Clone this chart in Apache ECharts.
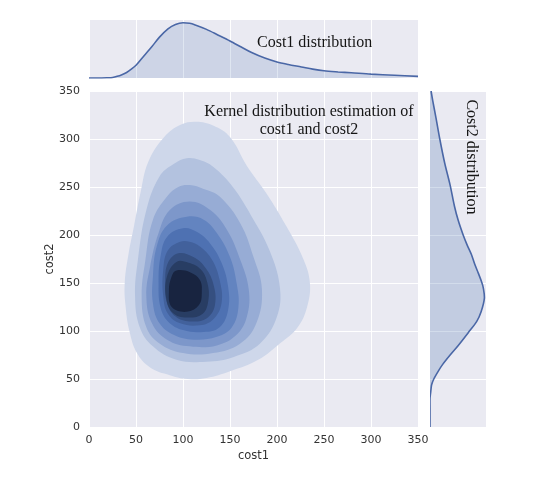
<!DOCTYPE html>
<html>
<head>
<meta charset="utf-8">
<script src="https://cdn.jsdelivr.net/npm/echarts@6.0.0/dist/echarts.min.js"></script>
<style>
html,body{margin:0;padding:0;background:#fff;}
#chart{width:556px;height:494px;}
</style>
</head>
<body>
<div id="chart"></div>
<script>
// ---- Data ----
var axisTicks = [0, 50, 100, 150, 200, 250, 300, 350];

// Marginal KDE of cost1 (relative density)
var cost1Values  = [0, 10, 20, 25, 30, 35, 40, 45, 50, 55, 60, 67, 75, 84, 92, 100, 107, 113, 125, 137, 150, 162, 173, 187, 200, 212, 226, 238, 250, 265, 279, 300, 325, 350];
var cost1Density = [0, 0, 0.005, 0.01, 0.03, 0.06, 0.1, 0.16, 0.23, 0.33, 0.43, 0.57, 0.74, 0.89, 0.97, 1.0, 0.99, 0.96, 0.88, 0.78, 0.67, 0.56, 0.46, 0.36, 0.29, 0.245, 0.2, 0.16, 0.13, 0.11, 0.095, 0.07, 0.05, 0.03];

// Marginal KDE of cost2 (relative density)
var cost2Values  = [0, 20, 30, 35, 40, 44, 50, 58, 65, 75, 85, 98, 110, 120, 134, 145, 151, 160, 170, 180, 190, 200, 215, 230, 252, 275, 300, 322, 340, 350];
var cost2Density = [0, 0, 0, 0.01, 0.02, 0.03, 0.07, 0.15, 0.23, 0.37, 0.52, 0.70, 0.86, 0.94, 1.0, 0.98, 0.95, 0.89, 0.82, 0.76, 0.68, 0.61, 0.52, 0.45, 0.37, 0.27, 0.18, 0.11, 0.05, 0.02];

// Filled KDE contour levels (cost1, cost2), outermost first
var level1  = [[114,318],[132,314],[150,302],[168,272],[189,243],[210,209],[228,175],[235,150],[232,125],[222,104],[203,87],[180,70],[150,58],[125,51],[105,50],[86,54],[65,62],[51,77],[43,100],[39,125],[38,150],[42,180],[48,210],[55,245],[63,276],[80,302],[98,315]];
var level2  = [[104,280],[118,278],[132,271],[153,250],[175,216],[192,184],[203,146],[200,115],[182,87],[154,73],[125,68],[93,70],[68,84],[54,104],[49,136],[52,174],[61,226],[75,261],[90,274]];
var level3  = [[107,252],[122,248],[139,240],[161,212],[175,177],[184,143],[178,108],[161,87],[132,77],[100,77],[75,87],[61,104],[56,136],[60,174],[68,216],[83,240],[95,250]];
var level4  = [[107,235],[129,226],[147,205],[161,174],[170,143],[168,115],[157,96],[136,85],[107,84],[83,91],[67,108],[61,136],[65,167],[74,202],[86,226]];
var level5  = [[104,219],[122,216],[136,202],[150,177],[157,150],[159,125],[152,104],[136,94],[111,91],[90,96],[75,108],[68,129],[68,157],[72,188],[83,210]];
var level6  = [[100,207],[115,203],[129,191],[141,171],[148,146],[148,122],[139,104],[122,99],[100,101],[84,110],[76,125],[74,150],[76,177],[83,198]];
var level7  = [[97,193],[107,193],[118,188],[131,174],[139,153],[141,129],[132,112],[118,106],[97,108],[84,118],[79,136],[79,164],[84,184]];
var level8  = [[95,181],[111,177],[123,167],[132,150],[134,127],[125,113],[107,110],[92,115],[83,129],[81,150],[84,171]];
var level9  = [[93,172],[106,171],[119,164],[126,150],[127,132],[121,118],[104,114],[89,119],[82,135],[83,157]];
var level10 = [[93,163],[108,161],[118,153],[120,140],[117,127],[104,120],[88,125],[85,142],[88,157]];

var contourLevels = [level1, level2, level3, level4, level5, level6, level7, level8, level9, level10];
var contourColors = ['#ced7ea', '#b3c2df', '#97acd5', '#7d97ca', '#6384c0', '#4e71b2', '#42619c', '#354f80', '#283d63', '#182440'];

// ---- Build chart ----
var chart = echarts.init(document.getElementById('chart'), null, {renderer: 'canvas'});

var labelStyle = {color: '#333', fontSize: 11, fontFamily: 'DejaVu Sans'};
var white = {lineStyle: {color: '#ffffff', width: 1}};

var cost1Line = cost1Values.map(function (v, i) { return [v, cost1Density[i]]; });

var option = {
  animation: false,
  backgroundColor: '#ffffff',
  grid: [
    {left: 89, top: 91, width: 329, height: 336, show: true, backgroundColor: '#eaeaf2', borderWidth: 0},
    {left: 89, top: 20, width: 329, height: 58, show: true, backgroundColor: '#eaeaf2', borderWidth: 0},
    {left: 430, top: 91, width: 56, height: 336, show: true, backgroundColor: '#eaeaf2', borderWidth: 0}
  ],
  xAxis: [
    {gridIndex: 0, type: 'value', min: axisTicks[0], max: axisTicks[axisTicks.length - 1], interval: 50,
     axisLine: {show: false}, axisTick: {show: false}, axisLabel: Object.assign({margin: 8}, labelStyle),
     splitLine: white, name: 'cost1', nameLocation: 'middle', nameGap: 23, nameMoveOverlap: false,
     nameTextStyle: {color: '#333', fontSize: 11.5, fontFamily: 'DejaVu Sans'}},
    {gridIndex: 1, type: 'value', min: axisTicks[0], max: axisTicks[axisTicks.length - 1], interval: 50,
     axisLine: {show: false}, axisTick: {show: false}, axisLabel: {show: false}, splitLine: white},
    {gridIndex: 2, type: 'value', min: 0, max: 1.03,
     axisLine: {show: false}, axisTick: {show: false}, axisLabel: {show: false}, splitLine: {show: false}}
  ],
  yAxis: [
    {gridIndex: 0, type: 'value', min: axisTicks[0], max: axisTicks[axisTicks.length - 1], interval: 50,
     axisLine: {show: false}, axisTick: {show: false}, axisLabel: Object.assign({margin: 9}, labelStyle),
     splitLine: white, name: 'cost2', nameLocation: 'middle', nameGap: 33, nameMoveOverlap: false,
     nameTextStyle: {color: '#333', fontSize: 11.5, fontFamily: 'DejaVu Sans'}},
    {gridIndex: 1, type: 'value', min: 0, max: 1.05,
     axisLine: {show: false}, axisTick: {show: false}, axisLabel: {show: false}, splitLine: {show: false}},
    {gridIndex: 2, type: 'value', min: axisTicks[0], max: axisTicks[axisTicks.length - 1], interval: 50,
     axisLine: {show: false}, axisTick: {show: false}, axisLabel: {show: false}, splitLine: white}
  ],
  series: [
    {
      type: 'custom', xAxisIndex: 0, yAxisIndex: 0, clip: true,
      data: contourLevels.map(function (_, i) { return [i, 0]; }),
      renderItem: function (params, api) {
        var idx = api.value(0);
        var pts = contourLevels[idx].map(function (p) { return api.coord(p); });
        return {type: 'polygon', shape: {points: pts, smooth: 0.4}, style: {fill: contourColors[idx]}};
      }
    },
    {
      type: 'line', xAxisIndex: 1, yAxisIndex: 1, data: cost1Line, smooth: 0.3, showSymbol: false,
      lineStyle: {color: '#4a67a6', width: 1.6},
      areaStyle: {color: 'rgba(76,114,176,0.25)'}
    },
    {
      type: 'custom', xAxisIndex: 2, yAxisIndex: 2, clip: true,
      data: [[0, 0]],
      renderItem: function (params, api) {
        var pts = cost2Values.map(function (v, i) { return api.coord([cost2Density[i], v]); });
        var fillPts = pts.concat([api.coord([0, cost2Values[cost2Values.length - 1]]), api.coord([0, cost2Values[0]])]);
        return {
          type: 'group',
          children: [
            {type: 'polygon', shape: {points: fillPts, smooth: 0.3}, style: {fill: 'rgba(76,114,176,0.25)'}},
            {type: 'polyline', shape: {points: pts, smooth: 0.3}, style: {stroke: '#4a67a6', lineWidth: 1.6, fill: null}}
          ]
        };
      }
    }
  ],
  graphic: [
    {type: 'text', x: 257, y: 43, z: 100,
     style: {text: 'Cost1 distribution', font: '16px "Liberation Serif"', fill: '#151515', align: 'left', verticalAlign: 'middle'}},
    {type: 'text', x: 309, y: 121, z: 100,
     style: {text: 'Kernel distribution estimation of\ncost1 and cost2', font: '16px "Liberation Serif"', lineHeight: 18.5,
             fill: '#151515', align: 'center', verticalAlign: 'middle'}},
    {type: 'text', x: 471.5, y: 157, z: 100, rotation: -Math.PI / 2,
     style: {text: 'Cost2 distribution', font: '16px "Liberation Serif"', fill: '#151515', align: 'center', verticalAlign: 'middle'}}
  ]
};
chart.setOption(option);
</script>
</body>
</html>
